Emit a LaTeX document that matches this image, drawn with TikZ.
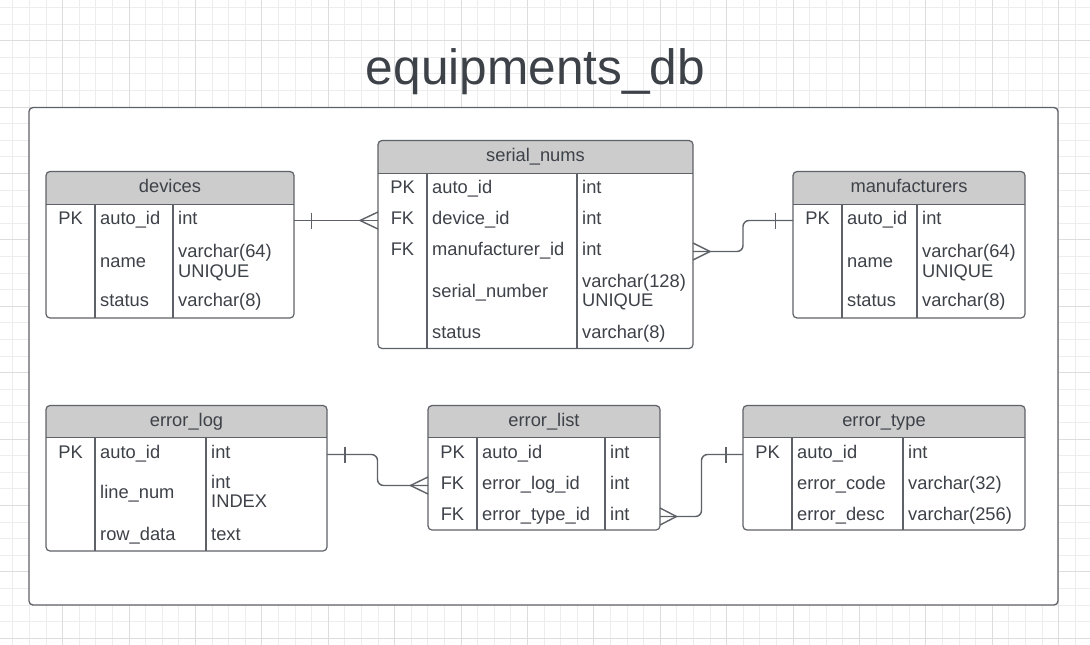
\documentclass[tikz,border=0pt]{standalone}
\usepackage{fontspec}
\setmainfont{Liberation Sans}
\usetikzlibrary{calc}
\definecolor{ink}{HTML}{3D4148}
\definecolor{edgecol}{HTML}{5E6167}
\definecolor{hdr}{HTML}{CCCCCC}
\definecolor{gridminor}{HTML}{EDEDED}
\definecolor{gridmajor}{HTML}{DDDDDD}
\newcommand\cellfont{\fontsize{18.3}{19.6}\selectfont}
\tikzset{
  tblbox/.style={draw=edgecol, line width=1.2pt, rounded corners=4pt, inner sep=0pt, outer sep=0pt},
  tblline/.style={draw=edgecol, line width=1.2pt},
  celltext/.style={inner sep=0pt, anchor=west, text=ink, font=\cellfont, align=left, execute at begin node=\strut},
  keytext/.style={inner sep=0pt, anchor=center, text=ink, font=\cellfont, execute at begin node=\strut},
  conn/.style={draw=edgecol, line width=1.4pt},
  gridmin/.style={draw=gridminor, line width=1pt},
  gridmaj/.style={draw=gridmajor, line width=1pt},
  container/.style={draw=edgecol, fill=white, line width=1.3pt, rounded corners=4pt},
  titletext/.style={text=ink, font=\fontsize{49.6}{56}\selectfont, inner sep=0pt, anchor=base},
}
% #1 name, #2 x1, #3 y1, #4 x2, #5 y2, #6 header bottom, #7 col1, #8 col2, #9 title
\newcommand\erbox[9]{%
  \begin{scope}
    \clip[rounded corners=4pt] (#2,#3) rectangle (#4,#5);
    \fill[white] (#2,#3) rectangle (#4,#5);
    \fill[hdr] (#2,#3) rectangle (#4,#6);
  \end{scope}
  \draw[tblline] (#2,#6) -- (#4,#6) (#7,#6) -- (#7,#5) (#8,#6) -- (#8,#5);
  \node[tblbox, anchor=north west, minimum width={#4-#2}, minimum height={#5-#3}] (#1) at (#2,#3) {};
  \node[keytext] (#1-title) at ({(#2+#4)/2},{#3+17}) {#9};
}
% #1 id, #2 x1, #3 col1, #4 col2, #5 y, #6 key, #7 field, #8 type
\newcommand\erow[8]{%
  \coordinate (#1) at (#2,#5);
  \node[keytext] (#1-k) at ({(#2+#3)/2},#5) {#6};
  \node[celltext] (#1-f) at ({#3+5},#5) {#7};
  \node[celltext] (#1-t) at ({#4+5},#5) {#8};
}
\begin{document}
\begin{tikzpicture}[x=1pt,y=-1pt]
\useasboundingbox[fill=white] (0,0) rectangle (1090,645);
% grid
\foreach \k in {-3,...,61} \draw[gridmin] ({62.7+16.6*\k},0) -- ({62.7+16.6*\k},645);
\foreach \k in {-2,...,36} \draw[gridmin] (0,{40.7+16.6*\k}) -- (1090,{40.7+16.6*\k});
\foreach \k in {0,...,15} \draw[gridmaj] ({62.7+66.4*\k},0) -- ({62.7+66.4*\k},645);
\foreach \k in {0,...,9} \draw[gridmaj] (0,{40.7+66.4*\k}) -- (1090,{40.7+66.4*\k});
% title and container
\node[titletext] (title) at (535.5,84) {equipments\_db};
\path[container] (29,107.5) rectangle (1058,605);
% tables
\erbox{devices}{46}{171.5}{294}{318}{204.5}{95}{173}{devices}
\erow{dev1}{46}{95}{173}{220.5}{PK}{auto\_id}{int}
\erow{dev2}{46}{95}{173}{264}{}{name}{varchar(64)\\\strut UNIQUE}
\erow{dev3}{46}{95}{173}{303}{}{status}{varchar(8)}

\erbox{serial}{378}{140.5}{693}{348.5}{173.5}{427}{577}{serial\_nums}
\erow{sn1}{378}{427}{577}{189.5}{PK}{auto\_id}{int}
\erow{sn2}{378}{427}{577}{220.5}{FK}{device\_id}{int}
\erow{sn3}{378}{427}{577}{251.5}{FK}{manufacturer\_id}{int}
\erow{sn4}{378}{427}{577}{293.5}{}{serial\_number}{varchar(128)\\\strut UNIQUE}
\erow{sn5}{378}{427}{577}{334.5}{}{status}{varchar(8)}

\erbox{manufacturers}{793}{171.5}{1025}{318}{204.5}{842}{917}{manufacturers}
\erow{man1}{793}{842}{917}{220.5}{PK}{auto\_id}{int}
\erow{man2}{793}{842}{917}{264}{}{name}{varchar(64)\\\strut UNIQUE}
\erow{man3}{793}{842}{917}{303}{}{status}{varchar(8)}

\erbox{errlog}{46}{405.5}{327}{551}{437.5}{95}{206}{error\_log}
\erow{el1}{46}{95}{206}{454.5}{PK}{auto\_id}{int}
\erow{el2}{46}{95}{206}{494.5}{}{line\_num}{int\\\strut INDEX}
\erow{el3}{46}{95}{206}{537}{}{row\_data}{text}

\erbox{errlist}{428}{405.5}{660}{530}{437.5}{477}{605}{error\_list}
\erow{eli1}{428}{477}{605}{454.5}{PK}{auto\_id}{int}
\erow{eli2}{428}{477}{605}{485.5}{FK}{error\_log\_id}{int}
\erow{eli3}{428}{477}{605}{516.5}{FK}{error\_type\_id}{int}

\erbox{errtype}{743}{405.5}{1025}{530}{437.5}{792}{903}{error\_type}
\erow{et1}{743}{792}{903}{454.5}{PK}{auto\_id}{int}
\erow{et2}{743}{792}{903}{485.5}{}{error\_code}{varchar(32)}
\erow{et3}{743}{792}{903}{516.5}{}{error\_desc}{varchar(256)}

% connector 1: devices -> serial_nums
\coordinate (c1s) at (devices.east |- dev1);
\coordinate (c1e) at (serial.west |- sn2);
\draw[conn] (c1s) -- (c1e);
\draw[conn] ($(c1s)+(17.5,-8)$) -- ($(c1s)+(17.5,8)$);
\draw[conn] ($(c1e)+(0,-8.5)$) -- ($(c1e)+(-18,0)$) -- ($(c1e)+(0,8.5)$);

% connector 2: serial_nums -> manufacturers
\coordinate (c2s) at (serial.east |- sn3);
\coordinate (c2e) at (manufacturers.west |- man1);
\draw[conn, rounded corners=6pt] (c2s) -| ($(c2s)!.5!(c2e)$) |- (c2e);
\draw[conn] ($(c2s)+(0,-8.5)$) -- ($(c2s)+(17,0)$) -- ($(c2s)+(0,8.5)$);
\draw[conn] ($(c2e)+(-17.5,-8)$) -- ($(c2e)+(-17.5,8)$);

% connector 3: error_log -> error_list
\coordinate (c3s) at (errlog.east |- el1);
\coordinate (c3e) at (errlist.west |- eli2);
\draw[conn, rounded corners=6pt] (c3s) -| ($(c3s)!.5!(c3e)$) |- (c3e);
\draw[conn] ($(c3s)+(18,-8)$) -- ($(c3s)+(18,8)$);
\draw[conn] ($(c3e)+(0,-8.5)$) -- ($(c3e)+(-17.5,0)$) -- ($(c3e)+(0,8.5)$);

% connector 4: error_list -> error_type
\coordinate (c4s) at (errlist.east |- eli3);
\coordinate (c4e) at (errtype.west |- et1);
\draw[conn, rounded corners=6pt] (c4s) -| ($(c4s)!.5!(c4e)$) |- (c4e);
\draw[conn] ($(c4s)+(0,-8.5)$) -- ($(c4s)+(16.5,0)$) -- ($(c4s)+(0,8.5)$);
\draw[conn] ($(c4e)+(-17,-8)$) -- ($(c4e)+(-17,8)$);
\end{tikzpicture}
\end{document}
